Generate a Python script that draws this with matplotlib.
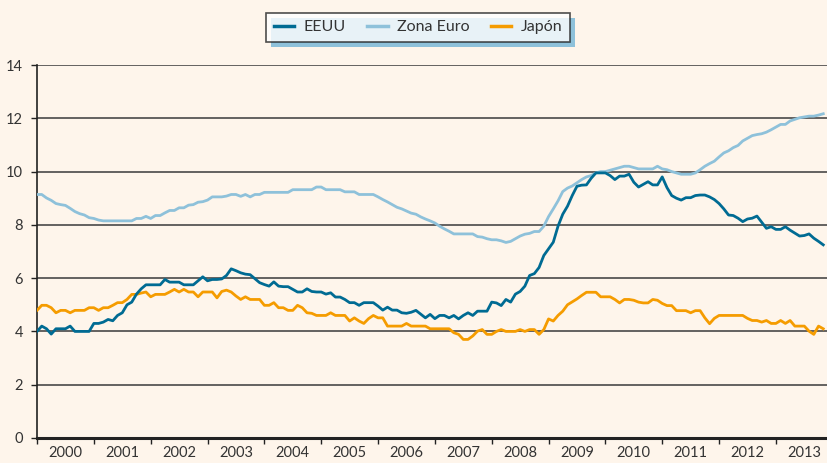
import numpy as np
import matplotlib
matplotlib.use("Agg")
import matplotlib.pyplot as plt
from matplotlib.patches import Rectangle
from matplotlib.ticker import FixedLocator, NullFormatter

# monthly unemployment rate (%), Jan 2000 - Nov 2013
eeuu = [
    4.0, 4.2, 4.1, 3.9, 4.1, 4.1, 4.1, 4.2, 4.0, 4.0, 4.0, 4.0,
    4.3, 4.3, 4.35, 4.45, 4.4, 4.6, 4.7, 5.0, 5.1, 5.4, 5.6, 5.75,
    5.75, 5.75, 5.75, 5.95, 5.85, 5.85, 5.85, 5.75, 5.75, 5.75, 5.9, 6.05,
    5.9, 5.95, 5.95, 5.97, 6.1, 6.35, 6.28, 6.2, 6.15, 6.13, 5.98, 5.83,
    5.76, 5.7, 5.86, 5.7, 5.68, 5.68, 5.58, 5.48, 5.48, 5.6, 5.5, 5.48,
    5.48, 5.4, 5.45, 5.29, 5.29, 5.2, 5.08, 5.08, 4.98, 5.08, 5.08, 5.08,
    4.95, 4.8, 4.91, 4.8, 4.8, 4.7, 4.68, 4.72, 4.79, 4.65, 4.51, 4.64,
    4.48, 4.6, 4.6, 4.51, 4.6, 4.47, 4.6, 4.7, 4.6, 4.76, 4.76, 4.76,
    5.1, 5.07, 4.97, 5.2, 5.1, 5.4, 5.5, 5.7, 6.1, 6.17, 6.4, 6.85,
    7.1, 7.35, 7.95, 8.4, 8.7, 9.1, 9.45, 9.49, 9.5, 9.75, 9.95, 9.95,
    9.95, 9.85, 9.7, 9.83, 9.83, 9.9, 9.6, 9.42, 9.52, 9.62, 9.5, 9.5,
    9.8, 9.4, 9.1, 9.0, 8.93, 9.02, 9.02, 9.1, 9.12, 9.12, 9.05, 8.95,
    8.8, 8.6, 8.37, 8.35, 8.25, 8.12, 8.22, 8.25, 8.33, 8.1, 7.87, 7.93,
    7.83, 7.83, 7.93, 7.8, 7.69, 7.58, 7.6, 7.66, 7.5, 7.38, 7.25,
]

zona_euro = [
    9.14, 9.14, 9.01, 8.92, 8.8, 8.76, 8.73, 8.62, 8.5, 8.42, 8.37, 8.27,
    8.24, 8.18, 8.15, 8.15, 8.15, 8.15, 8.15, 8.15, 8.15, 8.24, 8.24, 8.32,
    8.24, 8.35, 8.35, 8.45, 8.54, 8.54, 8.64, 8.64, 8.74, 8.76, 8.85, 8.87,
    8.93, 9.05, 9.05, 9.05, 9.08, 9.14, 9.14, 9.07, 9.14, 9.05, 9.14, 9.14,
    9.22, 9.22, 9.22, 9.22, 9.22, 9.22, 9.32, 9.32, 9.32, 9.32, 9.32, 9.42,
    9.42, 9.32, 9.32, 9.32, 9.32, 9.24, 9.24, 9.24, 9.14, 9.14, 9.14, 9.14,
    9.05, 8.95, 8.86, 8.76, 8.66, 8.6, 8.52, 8.44, 8.4, 8.3, 8.22, 8.15,
    8.07, 7.95, 7.85, 7.76, 7.66, 7.66, 7.66, 7.66, 7.66, 7.56, 7.54, 7.48,
    7.44, 7.44, 7.4, 7.34, 7.38, 7.48, 7.58, 7.65, 7.68, 7.75, 7.75, 7.95,
    8.31, 8.6, 8.9, 9.25, 9.38, 9.46, 9.58, 9.7, 9.8, 9.85, 9.95, 10.0,
    10.0, 10.05, 10.1, 10.15, 10.2, 10.2, 10.15, 10.1, 10.1, 10.1, 10.1, 10.2,
    10.1, 10.07, 10.0, 9.95, 9.9, 9.9, 9.9, 9.95, 10.07, 10.2, 10.3, 10.39,
    10.55, 10.7, 10.78, 10.9, 10.98, 11.15, 11.25, 11.35, 11.39, 11.42, 11.48, 11.57,
    11.67, 11.77, 11.77, 11.9, 11.96, 12.02, 12.05, 12.08, 12.08, 12.12, 12.17,
]

japon = [
    4.79, 4.98, 4.98, 4.89, 4.7, 4.79, 4.79, 4.7, 4.79, 4.79, 4.79, 4.89,
    4.89, 4.79, 4.89, 4.89, 4.98, 5.08, 5.08, 5.2, 5.39, 5.39, 5.44, 5.48,
    5.3, 5.39, 5.39, 5.39, 5.48, 5.58, 5.48, 5.58, 5.48, 5.48, 5.3, 5.48,
    5.48, 5.48, 5.26, 5.5, 5.55, 5.48, 5.33, 5.2, 5.3, 5.2, 5.2, 5.2,
    4.98, 4.98, 5.08, 4.89, 4.89, 4.79, 4.79, 4.98, 4.89, 4.7, 4.68, 4.6,
    4.6, 4.6, 4.7, 4.6, 4.6, 4.6, 4.39, 4.51, 4.39, 4.3, 4.48, 4.6,
    4.51, 4.51, 4.2, 4.2, 4.2, 4.2, 4.3, 4.2, 4.2, 4.2, 4.2, 4.1,
    4.1, 4.1, 4.1, 4.1, 3.95, 3.89, 3.7, 3.7, 3.83, 4.01, 4.07, 3.89,
    3.89, 4.0, 4.07, 4.0, 4.0, 4.0, 4.07, 4.0, 4.07, 4.07, 3.89, 4.07,
    4.47, 4.39, 4.6, 4.76, 5.0, 5.11, 5.22, 5.35, 5.47, 5.47, 5.47, 5.3,
    5.3, 5.3, 5.2, 5.07, 5.2, 5.2, 5.17, 5.1, 5.07, 5.07, 5.2, 5.17,
    5.05, 4.97, 4.97, 4.78, 4.78, 4.78, 4.7, 4.78, 4.78, 4.51, 4.29, 4.49,
    4.6, 4.6, 4.6, 4.6, 4.6, 4.6, 4.49, 4.41, 4.41, 4.35, 4.41, 4.3,
    4.3, 4.41, 4.3, 4.41, 4.2, 4.2, 4.2, 4.01, 3.89, 4.2, 4.1,
]

years = [str(y) for y in range(2000, 2014)]

bg = "#fef5eb"
c_us = "#006b93"
c_eu = "#8ec1da"
c_jp = "#f59c00"
txt = "#333333"

plt.rcParams["font.family"] = ["Lato", "DejaVu Sans"]

fig = plt.figure(figsize=(8.28, 4.63), dpi=100, facecolor=bg)
ax = fig.add_axes([0.0447, 0.054, 0.9553, 0.8056], facecolor=bg)

x = np.arange(len(eeuu))
ax.plot(x, eeuu, color=c_us, lw=2.0, label="EEUU", zorder=4)
ax.plot(x, zona_euro, color=c_eu, lw=2.0, label="Zona Euro", zorder=3)
ax.plot(x, japon, color=c_jp, lw=2.0, label="Japón", zorder=3)

ax.set_ylim(0, 14)
ax.set_xlim(0, 167)
ax.set_yticks(range(0, 15, 2))
ax.yaxis.grid(True, color="#3a3a3a", lw=1.1)
ax.set_axisbelow(True)

# year boundaries as ticks, labels centred in between
ax.xaxis.set_major_locator(FixedLocator(np.arange(0, 167, 12)))
ax.xaxis.set_major_formatter(NullFormatter())
ax.xaxis.set_minor_locator(FixedLocator(np.arange(6, 167, 12)))
ax.set_xticklabels(years, minor=True)
ax.tick_params(axis="x", which="major", length=4, width=1, color="#222222", direction="out")
ax.tick_params(axis="x", which="minor", length=0, pad=6, labelsize=10.5, labelcolor=txt)
ax.tick_params(axis="y", length=4, width=1, color="#222222", pad=6, labelsize=10.5, labelcolor=txt)

for s in ["top", "right"]:
    ax.spines[s].set_visible(False)
ax.spines["left"].set_color("#222222")
ax.spines["left"].set_linewidth(1.2)
ax.spines["bottom"].set_color("#222222")
ax.spines["bottom"].set_linewidth(2.2)

leg = fig.legend(loc="center", bbox_to_anchor=(0.505, 0.941), ncol=3, frameon=True,
                 fancybox=False, fontsize=11.5,
                 handlelength=1.3, handletextpad=0.6, columnspacing=1.3,
                 borderpad=0.45, edgecolor="#222222", labelcolor=txt)
leg.get_frame().set_linewidth(1.2)
leg.get_frame().set_facecolor("white")
leg.set_zorder(5)
for ln in leg.get_lines():
    ln.set_linewidth(2.5)

# flat blue shadow behind the legend box, offset down-right
fig.canvas.draw()
bb = leg.get_frame().get_window_extent().transformed(fig.transFigure.inverted())
dx, dy = 5 / 828, 5 / 463
fig.add_artist(Rectangle((bb.x0 + dx, bb.y0 - dy), bb.width, bb.height,
                         transform=fig.transFigure, facecolor=c_eu,
                         edgecolor="none", zorder=4))

fig.savefig("out.png", dpi=100, facecolor=bg)
